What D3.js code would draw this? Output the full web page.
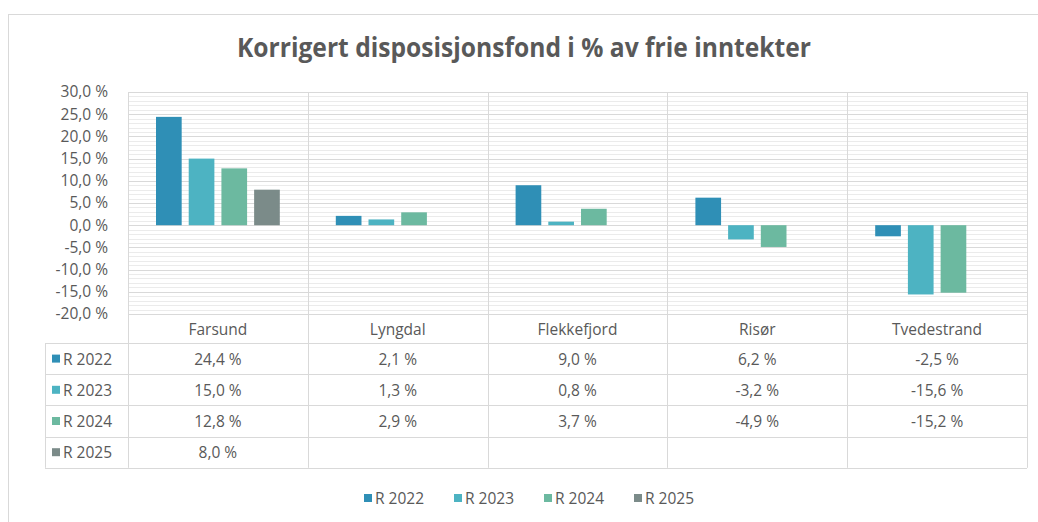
<!DOCTYPE html>
<html>
<head>
<meta charset="utf-8">
<script src="https://cdn.jsdelivr.net/npm/d3@7"></script>
<style>
  body { margin: 0; background: #fff; }
  svg text { font-family: "Open Sans", "Noto Sans", sans-serif; fill: #595959; }
</style>
</head>
<body>
<div id="chart"></div>
<script>
// kommuner og serier
var kommuner = ['Farsund', 'Lyngdal', 'Flekkefjord', 'Risør', 'Tvedestrand']
var serier = ['R 2022', 'R 2023', 'R 2024', 'R 2025']
var r2022 = [24.4, 2.1, 9.0, 6.2, -2.5]
var r2023 = [15.0, 1.3, 0.8, -3.2, -15.6]
var r2024 = [12.8, 2.9, 3.7, -4.9, -15.2]
var r2025 = [8.0, null, null, null, null]
var yTicks = [30, 25, 20, 15, 10, 5, 0, -5, -10, -15, -20]
var farger = ['#2f8fb6', '#4db3c2', '#6cb9a0', '#7b8b89']

var verdier = [r2022, r2023, r2024, r2025]

var width = 1038, height = 522
var plotLeft = 128, plotRight = 1027, plotTop = 92, plotBottom = 314
var rowH = 31.2, labelRowH = 29, keyLeft = 45
var fs = '15.5px'

var svg = d3.select('#chart').append('svg')
    .attr('width', width)
    .attr('height', height)

// ytre ramme (høyre og nedre kant ligger utenfor bildet)
svg.append('rect')
    .attr('x', 8.5).attr('y', 14.5)
    .attr('width', 1040).attr('height', 540)
    .attr('fill', 'none').attr('stroke', '#d9d9d9')

// tittel
svg.append('text')
    .attr('x', 524).attr('y', 57)
    .attr('text-anchor', 'middle')
    .style('font-size', '26px').style('font-weight', 'bold')
    .attr('textLength', 574).attr('lengthAdjust', 'spacingAndGlyphs')
    .text('Korrigert disposisjonsfond i % av frie inntekter')

var y = d3.scaleLinear().domain([-20, 30]).range([plotBottom, plotTop])
var x0 = d3.scaleBand().domain(kommuner).range([plotLeft, plotRight])
var x1 = d3.scaleBand().domain(serier).range([28, x0.bandwidth() - 28]).paddingInner(0.215)

// hjelpelinjer (1 %)
svg.append('g').selectAll('line')
    .data(d3.range(-20, 31, 1))
    .enter().append('line')
    .attr('x1', plotLeft).attr('x2', plotRight)
    .attr('y1', function (d) { return Math.round(y(d)) + 0.5 })
    .attr('y2', function (d) { return Math.round(y(d)) + 0.5 })
    .attr('stroke', function (d) { return d % 5 === 0 ? '#d9d9d9' : '#ebebeb' })

// y-akse
var yAxis = d3.axisLeft(y).tickValues(yTicks)
    .tickSize(0).tickPadding(20)
    .tickFormat(function (d) { return d.toFixed(1).replace('.', ',') + ' %' })
var ga = svg.append('g').attr('transform', 'translate(' + plotLeft + ',0)').call(yAxis)
ga.select('.domain').remove()
ga.selectAll('text').style('font-size', fs).style('fill', '#595959').style('font-family', '"Open Sans", sans-serif')

// søyler
serier.forEach(function (s, i) {
    svg.append('g').selectAll('rect')
        .data(kommuner.map(function (k, j) { return { k: k, v: verdier[i][j] } }).filter(function (d) { return d.v !== null }))
        .enter().append('rect')
        .attr('x', function (d) { return x0(d.k) + x1(s) })
        .attr('width', x1.bandwidth())
        .attr('y', function (d) { return y(Math.max(0, d.v)) })
        .attr('height', function (d) { return Math.abs(y(d.v) - y(0)) })
        .attr('fill', farger[i])
})

// datatabell
var tableBottom = plotBottom + labelRowH + rowH * serier.length
var lines = svg.append('g').attr('stroke', '#d9d9d9').attr('fill', 'none')
// vertikale linjer
kommuner.forEach(function (k) {
    lines.append('line').attr('x1', Math.round(x0(k)) + 0.5).attr('x2', Math.round(x0(k)) + 0.5)
        .attr('y1', plotTop).attr('y2', tableBottom)
})
lines.append('line').attr('x1', plotRight + 0.5).attr('x2', plotRight + 0.5).attr('y1', plotTop).attr('y2', tableBottom)
lines.append('line').attr('x1', keyLeft + 0.5).attr('x2', keyLeft + 0.5).attr('y1', plotBottom + labelRowH).attr('y2', tableBottom)
// horisontale linjer
lines.append('line').attr('x1', plotLeft).attr('x2', plotRight).attr('y1', plotTop + 0.5).attr('y2', plotTop + 0.5)
lines.append('line').attr('x1', plotLeft).attr('x2', plotRight).attr('y1', plotBottom + 0.5).attr('y2', plotBottom + 0.5)
for (var r = 0; r <= serier.length; r++) {
    var yy = Math.round(plotBottom + labelRowH + r * rowH) + 0.5
    lines.append('line').attr('x1', keyLeft).attr('x2', plotRight).attr('y1', yy).attr('y2', yy)
}

// kategorinavn
svg.append('g').selectAll('text')
    .data(kommuner).enter().append('text')
    .attr('x', function (d) { return x0(d) + x0.bandwidth() / 2 })
    .attr('y', plotBottom + labelRowH / 2 + 6)
    .attr('text-anchor', 'middle')
    .style('font-size', fs)
    .text(function (d) { return d })

// radetiketter og verdier
serier.forEach(function (s, i) {
    var cy = plotBottom + labelRowH + i * rowH + rowH / 2
    svg.append('rect').attr('x', 52).attr('y', cy - 4).attr('width', 8).attr('height', 8).attr('fill', farger[i])
    svg.append('text').attr('x', 63).attr('y', cy + 6).style('font-size', fs).text(s)
    svg.append('g').selectAll('text')
        .data(kommuner.map(function (k, j) { return { k: k, v: verdier[i][j] } }).filter(function (d) { return d.v !== null }))
        .enter().append('text')
        .attr('x', function (d) { return x0(d.k) + x0.bandwidth() / 2 })
        .attr('y', cy + 6)
        .attr('text-anchor', 'middle')
        .style('font-size', fs)
        .text(function (d) { return d.v.toFixed(1).replace('.', ',') + ' %' })
})

// forklaring
var leg = svg.append('g').attr('transform', 'translate(364,498)')
serier.forEach(function (s, i) {
    var g = leg.append('g').attr('transform', 'translate(' + (i * 90) + ',0)')
    g.append('rect').attr('x', 0).attr('y', -4).attr('width', 8).attr('height', 8).attr('fill', farger[i])
    g.append('text').attr('x', 11).attr('y', 6).style('font-size', fs).text(s)
})
</script>
</body>
</html>
